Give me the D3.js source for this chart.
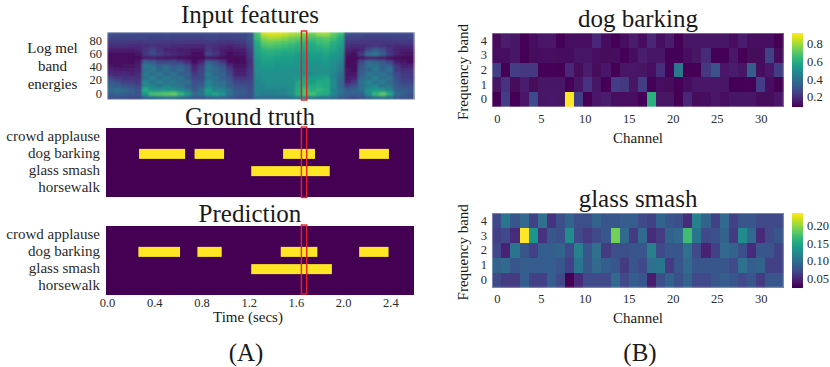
<!DOCTYPE html>
<html>
<head>
<meta charset="utf-8">
<script src="https://cdn.jsdelivr.net/npm/d3@7"></script>
<style>
  html, body { margin: 0; padding: 0; background: #fff; }
  svg { display: block; }
  text { font-family: "Liberation Serif", serif; fill: #1a1a1a; }
  .tick text { font-family: "Liberation Serif", serif; fill: #2a2a2a; }
</style>
</head>
<body>
<svg id="chart" width="830" height="367"></svg>
<script>
// log mel energies, top row first, hundredths of the colour range
const melRows = [
  [24,24,23,23,22, 22,22,23,23,22,22,22,22, 22,23,23,22,22,22,22,26, 70,92,95,95,92,88,85,80,78,85,85,75,68, 26,24,24,22,22,22,22,23,22,22],
  [20,20,20,19,20, 20,19,19,20,19,19,19,19, 19,20,20,19,19,20,20,26, 68,82,86,85,82,78,76,72,70,72,75,70,62, 20,20,19,18,18,18,18,19,19,20],
  [17,16,17,16,16, 16,17,16,16,16,16,15,15, 15,17,16,15,15,16,16,24, 62,76,78,76,74,72,68,66,64,68,70,64,58, 17,16,15,15,15,16,16,16,17,17],
  [13,13,13,12,12, 13,14,13,13,12,12,11,11, 11,14,13,11,10,12,13,22, 60,70,72,70,68,66,64,62,60,64,66,60,56, 14,12,12,14,15,14,13,12,12,12],
  [8,8,8,8,9, 14,20,14,10,9,8,7,6, 6,16,12,7,6,7,8,18, 58,64,66,64,62,62,60,58,58,60,62,58,54, 10,7,10,22,30,24,14,9,8,7],
  [4,4,4,4,5, 16,22,18,14,12,10,7,4, 4,20,16,8,4,5,6,16, 56,60,62,60,58,58,56,54,56,56,58,54,50, 5,4,18,36,38,30,18,9,6,5],
  [2,2,2,2,3, 8,8,6,5,5,4,3,2, 2,6,5,3,2,2,3,14, 54,58,58,56,56,56,54,54,54,54,56,52,48, 3,2,5,9,9,7,4,3,2,2],
  [2,2,2,3,6, 30,28,22,20,22,18,12,4, 10,30,24,16,4,2,3,12, 52,56,56,54,54,54,52,52,52,52,54,50,44, 2,3,22,34,32,28,20,8,5,4],
  [5,4,5,5,8, 40,36,30,34,28,32,24,10, 18,38,30,26,12,5,5,14, 50,54,54,52,52,52,52,50,50,50,52,48,42, 4,3,26,36,38,32,32,16,10,10],
  [9,8,8,7,10, 34,40,32,38,30,34,26,12, 20,36,34,28,18,8,8,16, 50,52,52,52,50,50,50,50,50,50,50,48,40, 5,4,28,32,40,32,36,18,14,14],
  [12,11,12,10,12, 42,34,40,32,38,30,30,16, 22,42,32,32,20,10,10,16, 48,50,50,50,50,50,50,50,48,50,50,46,38, 6,6,30,40,34,38,32,22,16,16],
  [20,15,14,14,14, 36,44,34,42,34,38,30,20, 22,38,38,30,26,14,14,18, 48,50,50,50,50,50,54,58,54,56,58,46,36, 8,10,34,36,44,34,38,24,18,18],
  [28,24,18,18,16, 46,36,44,36,42,34,36,24, 26,46,36,36,28,20,20,20, 46,48,50,50,50,50,58,60,56,60,60,48,34, 10,16,38,46,36,42,34,26,20,20],
  [32,30,26,24,20, 48,46,38,46,40,40,32,26, 30,46,40,38,30,24,24,22, 46,46,48,48,48,50,60,62,60,62,60,48,34, 20,24,36,42,46,38,40,28,24,24],
  [34,36,34,30,26, 62,50,50,52,52,46,40,28, 36,56,44,46,36,28,28,24, 46,46,46,46,46,50,62,70,62,66,62,46,36, 30,32,36,50,54,50,44,30,30,28],
  [30,32,30,28,26, 54,70,72,74,76,66,54,34, 38,54,58,50,36,30,28,24, 44,42,42,44,44,50,64,72,70,62,60,46,36, 32,30,32,48,66,74,60,34,30,26],
  [24,24,24,22,22, 30,32,34,36,34,32,30,28, 26,30,32,30,28,24,24,24, 36,34,34,34,34,36,40,44,40,38,36,34,28, 24,22,24,30,34,36,34,28,24,24]
];
const melTicks = [0, 20, 40, 60, 80];

const classes = ["crowd applause", "dog barking", "glass smash", "horsewalk"];
const timeTicks = [0, 0.4, 0.8, 1.2, 1.6, 2.0, 2.4];
const windowTime = [1.655, 1.70];

// [class, start, end] in seconds
const truthEvents = [
  ["dog barking", 0.28, 0.67], ["dog barking", 0.75, 1.0], ["dog barking", 1.5, 1.77],
  ["dog barking", 2.144, 2.396], ["glass smash", 1.23, 1.895]
];
const predEvents = [
  ["dog barking", 0.274, 0.627], ["dog barking", 0.774, 0.98], ["dog barking", 1.48, 1.79],
  ["dog barking", 2.144, 2.393], ["glass smash", 1.23, 1.913]
];

const bands = [4, 3, 2, 1, 0];
const channelTicks = [0, 5, 10, 15, 20, 25, 30];

const dogRows = [
  [.11,.15,.13,.09,.12,.14,.14,.10,.12,.12,.12,.18,.12,.10,.12,.15,.12,.18,.12,.15,.10,.13,.13,.13,.13,.13,.12,.16,.12,.12,.12,.09],
  [.12,.12,.13,.09,.11,.12,.12,.11,.11,.13,.13,.12,.11,.12,.10,.12,.15,.13,.13,.10,.10,.12,.13,.19,.10,.10,.14,.10,.11,.11,.25,.11],
  [.24,.10,.24,.22,.22,.10,.10,.08,.18,.11,.15,.11,.14,.09,.13,.14,.13,.12,.20,.10,.42,.09,.09,.22,.30,.14,.16,.13,.33,.12,.14,.24],
  [.13,.21,.11,.16,.11,.13,.13,.13,.10,.13,.21,.13,.08,.24,.22,.13,.24,.10,.12,.11,.10,.12,.14,.14,.14,.13,.08,.09,.10,.24,.12,.08],
  [.09,.24,.09,.14,.28,.13,.14,.13,.94,.24,.09,.14,.15,.12,.12,.12,.10,.62,.13,.13,.08,.18,.11,.12,.14,.12,.13,.13,.13,.11,.11,.14]
];
const dogRange = [0.09, 0.92];
const dogTicks = [0.2, 0.4, 0.6, 0.8];

const glassRows = [
  [.07,.105,.08,.095,.065,.10,.055,.075,.09,.075,.075,.09,.08,.08,.085,.085,.07,.065,.09,.08,.075,.05,.115,.09,.065,.095,.065,.08,.08,.07,.07,.07],
  [.065,.07,.05,.235,.135,.055,.08,.075,.125,.07,.06,.07,.08,.19,.095,.06,.095,.05,.06,.09,.095,.17,.105,.07,.075,.09,.06,.125,.095,.05,.07,.08],
  [.07,.045,.105,.08,.065,.085,.085,.09,.07,.115,.08,.10,.06,.075,.075,.08,.08,.115,.07,.08,.08,.10,.07,.045,.065,.095,.09,.075,.05,.08,.08,.065],
  [.09,.095,.08,.085,.085,.085,.085,.08,.065,.105,.08,.095,.085,.08,.06,.08,.07,.10,.105,.06,.08,.095,.08,.08,.08,.08,.07,.10,.085,.09,.065,.065],
  [.07,.06,.06,.085,.065,.065,.085,.07,.024,.05,.07,.07,.07,.095,.07,.085,.08,.04,.075,.09,.075,.09,.07,.07,.08,.085,.08,.07,.08,.06,.08,.08]
];
const glassRange = [0.024, 0.235];
const glassTicks = [0.05, 0.10, 0.15, 0.20];

const svg = d3.select("#chart");
const viridis = d3.interpolateViridis;
const defs = svg.append("defs");

function softFilter(id, amount) {
  defs.append("filter").attr("id", id)
      .attr("x", 0).attr("y", 0).attr("width", 1).attr("height", 1)
    .append("feGaussianBlur").attr("stdDeviation", amount).attr("edgeMode", "duplicate");
}
softFilter("soft", 1.0);
softFilter("softer", 0.45);

// pale edge the original gets from being resampled onto white
function paleEdge(x, y, w, h) {
  svg.append("rect").attr("x", x).attr("y", y).attr("width", w).attr("height", h)
    .attr("fill", "none").attr("stroke", "#fff").attr("stroke-opacity", 0.4);
}

// ---- left column
const left = 107, right = 414;
const xTime = d3.scaleLinear().domain([0, 2.6]).range([left, right]);
const xMel = d3.scaleBand().domain(d3.range(melRows[0].length)).range([left, right]);
const yMelCell = d3.scaleBand().domain(d3.range(melRows.length)).range([32, 99.5]);
const yMel = d3.scaleLinear().domain([0, 80]).range([93, 40]);

const melG = svg.append("g").attr("filter", "url(#soft)").attr("shape-rendering", "crispEdges");
melRows.forEach(function(row, r) {
  melG.selectAll(null).data(row).enter().append("rect")
    .attr("x", (d, i) => xMel(i))
    .attr("y", yMelCell(r))
    .attr("width", xMel.bandwidth() + 0.5)
    .attr("height", yMelCell.bandwidth() + 0.5)
    .attr("fill", d => viridis(d / 100));
});
paleEdge(left, 32, right - left, 67.5);

svg.append("g")
  .attr("transform", "translate(107,0)")
  .call(d3.axisLeft(yMel).tickValues(melTicks).tickSize(0).tickPadding(5))
  .call(g => g.select(".domain").remove())
  .selectAll("text").attr("font-size", 12.5);

svg.append("text").attr("text-anchor", "middle").attr("font-size", 15)
  .selectAll("tspan").data(["Log mel", "band", "energies"]).enter().append("tspan")
    .attr("x", 52.5).attr("y", (d, i) => 53 + i * 18).text(d => d);

function eventPanel(events, top, bottom) {
  const y = d3.scaleBand().domain(classes).range([top, bottom]);
  const g = svg.append("g");
  g.append("rect")
    .attr("x", left - 1).attr("y", top)
    .attr("width", right - left + 1).attr("height", bottom - top)
    .attr("fill", viridis(0));
  g.selectAll(".event").data(events).enter().append("rect")
    .attr("class", "event")
    .attr("x", d => xTime(d[1]) - 1)
    .attr("width", d => xTime(d[2]) - xTime(d[1]))
    .attr("y", d => y(d[0]) + y.bandwidth() * 0.21)
    .attr("height", y.bandwidth() * 0.58)
    .attr("fill", viridis(1));
  svg.append("g")
    .attr("transform", "translate(106,0)")
    .call(d3.axisLeft(y).tickSize(0).tickPadding(6))
    .call(a => a.select(".domain").remove())
    .selectAll("text").attr("font-size", 15).attr("dy", "0.26em");
}
eventPanel(truthEvents, 128, 197);
eventPanel(predEvents, 226, 295);

svg.append("g")
  .attr("transform", "translate(0,295)")
  .call(d3.axisBottom(xTime).tickValues(timeTicks).tickFormat(d3.format(".1f")).tickSize(0).tickPadding(3))
  .call(g => g.select(".domain").remove())
  .selectAll("text").attr("font-size", 12.5);

// red analysis window over the three panels
[[31, 100], [127, 197.5], [225, 294]].forEach(function(p) {
  svg.append("rect")
    .attr("x", xTime(windowTime[0]) - 1)
    .attr("width", xTime(windowTime[1]) - xTime(windowTime[0]))
    .attr("y", p[0]).attr("height", p[1] - p[0])
    .attr("fill", "none").attr("stroke", "#e6211e").attr("stroke-width", 1.4);
});

function label(txt, x, y, size) {
  return svg.append("text").attr("x", x).attr("y", y)
    .attr("text-anchor", "middle").attr("font-size", size).text(txt);
}
label("Input features", 250, 23, 25);
label("Ground truth", 250, 125, 25);
label("Prediction", 250, 222, 25);
label("Time (secs)", 248, 322, 15);
label("(A)", 246, 361, 25);
label("(B)", 640, 361, 25);

// ---- right column
const xCell = d3.scaleBand().domain(d3.range(dogRows[0].length)).range([492.3, 783.3]);
// labels run a little tighter than the cells in the original
const xChannel = d3.scaleLinear().domain([0, 30]).range([496.8, 760.8]);

function heatPanel(title, rows, range, ticks, fmt, top, bottom, titleY) {
  const y = d3.scaleBand().domain(bands).range([top, bottom]);
  const color = d3.scaleSequential(viridis).domain(range);
  const g = svg.append("g").attr("filter", "url(#softer)").attr("shape-rendering", "crispEdges");
  rows.forEach(function(row, r) {
    g.selectAll(null).data(row).enter().append("rect")
      .attr("x", (d, i) => xCell(i))
      .attr("y", y(bands[r]))
      .attr("width", xCell.bandwidth() + 0.3)
      .attr("height", y.bandwidth() + 0.3)
      .attr("fill", d => color(d));
  });
  paleEdge(492.3, top, 291, bottom - top);

  svg.append("g").attr("transform", `translate(0,${bottom})`)
    .call(d3.axisBottom(xChannel).tickValues(channelTicks).tickSize(0).tickPadding(7))
    .call(a => a.select(".domain").remove())
    .selectAll("text").attr("font-size", 12.5);
  svg.append("g").attr("transform", "translate(492,0)")
    .call(d3.axisLeft(y).tickSize(0).tickPadding(5))
    .call(a => a.select(".domain").remove())
    .selectAll("text").attr("font-size", 12.5);

  label(title, 638, titleY, 25);
  label("Channel", 638, bottom + 36, 15);
  svg.append("text")
    .attr("transform", `translate(468,${(top + bottom) / 2 + 2}) rotate(-90)`)
    .attr("text-anchor", "middle").attr("font-size", 15)
    .text("Frequency band");

  // colour bar
  const yBar = d3.scaleLinear().domain(range).range([bottom, top]);
  const steps = d3.range(0, 75);
  svg.append("g").attr("shape-rendering", "crispEdges")
    .selectAll("rect").data(steps).enter().append("rect")
    .attr("x", 791.7).attr("width", 11)
    .attr("y", d => top + (bottom - top) * d / 75)
    .attr("height", (bottom - top) / 75 + 0.4)
    .attr("fill", d => viridis(1 - d / 74));
  svg.append("g").attr("transform", "translate(803,0)")
    .call(d3.axisRight(yBar).tickValues(ticks).tickFormat(d3.format(fmt)).tickSize(0).tickPadding(4))
    .call(a => a.select(".domain").remove())
    .selectAll("text").attr("font-size", 12.5);
}
heatPanel("dog barking", dogRows, dogRange, dogTicks, ".1f", 33.3, 106.7, 27);
heatPanel("glass smash", glassRows, glassRange, glassTicks, ".2f", 213.3, 287.3, 207);
</script>
</body>
</html>
